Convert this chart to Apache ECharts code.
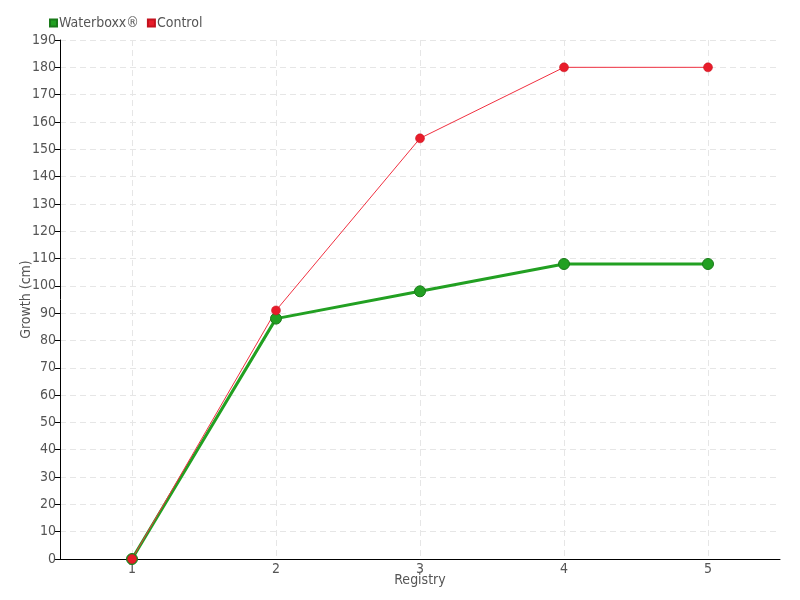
<!DOCTYPE html>
<html>
<head>
<meta charset="utf-8">
<script src="https://cdn.jsdelivr.net/npm/echarts@6/dist/echarts.min.js"></script>
<style>html,body{margin:0;padding:0;background:#fff}#c{width:800px;height:600px}</style>
</head>
<body>
<div id="c"></div>
<script>
var categories = ['1', '2', '3', '4', '5'];
var waterboxx = [0, 88, 98, 108, 108];
var control = [0, 91, 154, 180, 180];
var FONT = '"Liberation Sans Narrow", "DejaVu Sans Condensed", sans-serif';

// helper grid axis: half-step positions so vertical grid lines sit at category centres
var halfSteps = [];
for (var i = 0; i <= categories.length * 2; i++) halfSteps.push(String(i));

var chart = echarts.init(document.getElementById('c'));
chart.setOption({
  animation: false,
  textStyle: { fontFamily: FONT },
  legend: {
    left: 44, top: 11,
    itemWidth: 7, itemHeight: 7, itemGap: 8,
    icon: 'rect',
    textStyle: { fontFamily: FONT, fontSize: 14, color: '#555', padding: [0, 0, 0, -3] },
    data: ['Waterboxx®', 'Control']
  },
  grid: { left: 60, right: 20, top: 40, bottom: 41 },
  xAxis: [{
    type: 'category',
    data: categories,
    boundaryGap: true,
    name: 'Registry',
    nameLocation: 'middle',
    nameGap: 14,
    nameMoveOverlap: false,
    nameTextStyle: { fontFamily: FONT, fontSize: 14, color: '#555' },
    axisLine: { lineStyle: { color: '#000', width: 1 } },
    axisTick: { alignWithLabel: true, length: 7, lineStyle: { color: '#666' } },
    axisLabel: { fontFamily: FONT, fontSize: 14, color: '#555', margin: 3 },
    splitLine: { show: false },
    z: 3
  }, {
    type: 'category',
    data: halfSteps,
    boundaryGap: false,
    position: 'bottom',
    axisLine: { show: false },
    axisTick: { show: false },
    axisLabel: { show: false },
    splitLine: {
      show: true,
      interval: function (idx) { return idx % 2 === 1; },
      lineStyle: { type: [6, 4], color: '#e6e6e6' }
    }
  }],
  yAxis: {
    type: 'value',
    min: 0, max: 190, interval: 10,
    name: 'Growth (cm)',
    nameLocation: 'middle',
    nameGap: 27,
    nameMoveOverlap: false,
    nameTextStyle: { fontFamily: FONT, fontSize: 14, color: '#555' },
    axisLine: { show: true, lineStyle: { color: '#000', width: 1 } },
    axisTick: { show: true, length: 5, lineStyle: { color: '#000' } },
    axisLabel: { fontFamily: FONT, fontSize: 14, color: '#555', margin: 4 },
    splitLine: { show: true, lineStyle: { type: [6, 4], color: '#e6e6e6' } }
  },
  series: [
    {
      name: 'Waterboxx®', type: 'line', data: waterboxx, xAxisIndex: 0,
      symbol: 'circle', symbolSize: 11,
      itemStyle: { color: '#22a022', borderColor: '#1a7a1a', borderWidth: 1 },
      lineStyle: { color: '#22a022', width: 3 }
    },
    {
      name: 'Control', type: 'line', data: control, xAxisIndex: 0,
      symbol: 'circle', symbolSize: 9,
      itemStyle: { color: '#e81c2a', borderColor: '#c4121e', borderWidth: 0.5 },
      lineStyle: { color: '#f03040', width: 1 }
    }
  ]
});
</script>
</body>
</html>
